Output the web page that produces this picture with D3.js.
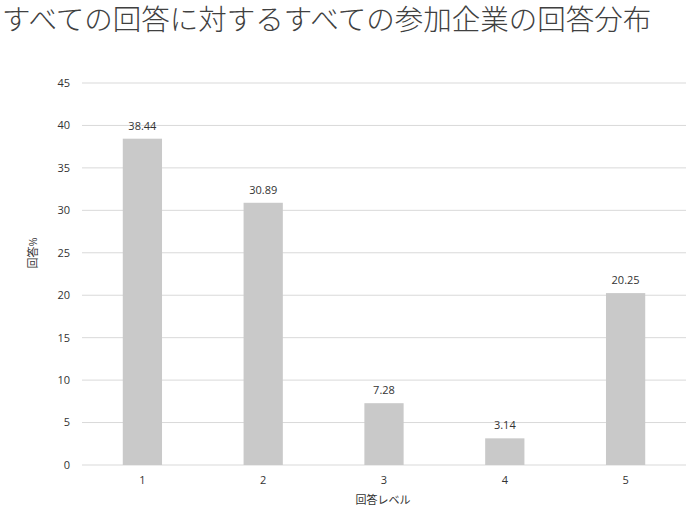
<!DOCTYPE html>
<html>
<head>
<meta charset="utf-8">
<script src="https://cdn.jsdelivr.net/npm/d3@7"></script>
<style>
  body { margin: 0; background: #fff; }
  text { font-family: "Open Sans", "Noto Sans CJK JP", sans-serif; }
</style>
</head>
<body>
<div id="chart"></div>
<script>
const levels = ["1", "2", "3", "4", "5"];
const shares = [38.44, 30.89, 7.28, 3.14, 20.25];
const yTicks = [0, 5, 10, 15, 20, 25, 30, 35, 40, 45];

const W = 688, H = 510;
const margin = {top: 83, right: 2, bottom: 45, left: 82};
const width = W - margin.left - margin.right;
const height = H - margin.top - margin.bottom;

const svg = d3.select("#chart").append("svg")
    .attr("width", W).attr("height", H);

svg.append("text")
    .attr("x", 2).attr("y", 30)
    .attr("font-family", "'Noto Sans CJK JP', sans-serif")
    .attr("font-weight", 300)
    .attr("font-size", 28.5)
    .attr("fill", "#404040")
    .text("すべての回答に対するすべての参加企業の回答分布");

const g = svg.append("g")
    .attr("transform", "translate(" + margin.left + "," + margin.top + ")");

const x = d3.scaleBand().domain(levels).range([0, width]).paddingInner(0.675).paddingOuter(0.3375);
const y = d3.scaleLinear().domain([0, 45]).range([height, 0]);

g.selectAll(".grid").data(yTicks).enter().append("line")
    .attr("x1", 0).attr("x2", width)
    .attr("y1", d => y(d)).attr("y2", d => y(d))
    .attr("stroke", "#d9d9d9").attr("stroke-width", 1);

g.selectAll(".ytick").data(yTicks).enter().append("text")
    .attr("x", -12).attr("y", d => y(d)).attr("dy", "0.35em")
    .attr("text-anchor", "end")
    .attr("font-size", 11).attr("fill", "#333")
    .text(d => d);

g.selectAll(".bar").data(shares).enter().append("rect")
    .attr("x", (d, i) => x(levels[i]))
    .attr("y", d => y(d))
    .attr("width", x.bandwidth())
    .attr("height", d => height - y(d))
    .attr("fill", "#c9c9c9");

g.selectAll(".lbl").data(shares).enter().append("text")
    .attr("x", (d, i) => x(levels[i]) + x.bandwidth() / 2)
    .attr("y", d => y(d) - 9)
    .attr("text-anchor", "middle")
    .attr("font-size", 11).attr("fill", "#333")
    .text(d => d.toFixed(2));

g.selectAll(".xtick").data(levels).enter().append("text")
    .attr("x", d => x(d) + x.bandwidth() / 2)
    .attr("y", height + 19)
    .attr("text-anchor", "middle")
    .attr("font-size", 11).attr("fill", "#333")
    .text(d => d);

svg.append("text")
    .attr("x", 383).attr("y", 504)
    .attr("text-anchor", "middle")
    .attr("font-family", "'Noto Sans CJK JP', sans-serif")
    .attr("font-size", 11).attr("fill", "#333")
    .text("回答レベル");

svg.append("text")
    .attr("transform", "translate(37,253) rotate(-90)")
    .attr("text-anchor", "middle")
    .attr("font-family", "'Noto Sans CJK JP', sans-serif")
    .attr("font-size", 11).attr("fill", "#333")
    .text("回答%");
</script>
</body>
</html>
